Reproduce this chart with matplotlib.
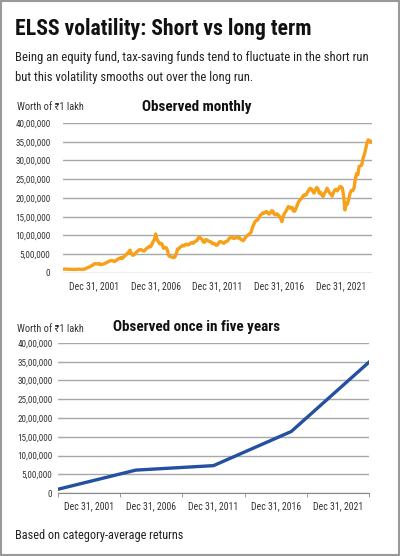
import os
import numpy as np
import matplotlib as mpl
import matplotlib.pyplot as plt
from matplotlib import font_manager
from matplotlib.font_manager import FontProperties

mpl.use('agg')

# worth of Rs 1 lakh, in lakh, monthly from Dec 2001 to Dec 2021
monthly = [
    1.00,
    1.02, 1.05, 1.03, 1.00, 1.02, 0.98, 0.96, 0.97, 0.95, 0.97, 1.00, 1.03,   # 2002
    1.02, 0.99, 0.97, 1.00, 1.08, 1.25, 1.35, 1.55, 1.70, 1.90, 2.05, 2.40,   # 2003
    2.50, 2.45, 2.40, 2.55, 2.20, 2.25, 2.35, 2.45, 2.60, 2.85, 2.95, 3.20,   # 2004
    3.25, 3.35, 3.20, 3.05, 3.30, 3.55, 3.75, 3.90, 4.10, 3.85, 4.25, 4.55,   # 2005
    4.90, 5.20, 5.60, 6.10, 5.30, 4.75, 4.80, 5.20, 5.55, 5.85, 6.15, 6.25,   # 2006
    6.20, 5.90, 5.85, 6.20, 6.60, 6.75, 7.10, 7.00, 7.60, 8.40, 8.90, 10.40,  # 2007
    9.00, 8.40, 7.80, 7.90, 7.70, 6.60, 6.70, 6.80, 6.20, 4.70, 4.40, 4.30,   # 2008
    4.20, 4.10, 4.30, 5.20, 6.40, 6.50, 6.90, 7.10, 7.40, 7.20, 7.60, 7.70,   # 2009
    7.50, 7.60, 8.00, 8.10, 7.90, 8.20, 8.50, 8.60, 9.30, 9.60, 9.20, 9.00,   # 2010
    8.30, 8.20, 8.90, 8.80, 8.50, 8.40, 8.30, 7.80, 7.90, 7.70, 7.40, 7.50,   # 2011
    8.10, 8.40, 8.30, 8.10, 7.90, 8.30, 8.40, 8.60, 9.20, 9.40, 9.60, 9.30,   # 2012
    9.20, 9.40, 9.60, 9.30, 9.50, 9.00, 8.80, 8.60, 9.10, 9.60, 9.90, 10.20,  # 2013
    10.50, 10.80, 12.00, 12.80, 13.60, 14.00, 14.10, 14.60, 15.30, 15.60, 16.00, 15.90,  # 2014
    16.20, 16.40, 16.10, 15.70, 16.00, 16.60, 16.50, 15.70, 15.50, 15.80, 15.50, 15.20,  # 2015
    14.60, 13.70, 15.00, 15.90, 16.40, 17.00, 17.70, 17.60, 17.20, 17.50, 16.50, 16.50,  # 2016
    17.30, 18.10, 19.00, 19.50, 19.80, 20.20, 20.80, 20.70, 21.00, 21.60, 22.20, 22.60,  # 2017
    22.40, 21.80, 21.30, 22.20, 22.80, 22.50, 21.30, 21.50, 20.80, 20.40, 21.20, 21.70,  # 2018
    22.60, 22.00, 21.40, 21.00, 20.50, 21.40, 22.10, 22.30, 21.90, 22.40, 23.00, 23.00,  # 2019
    22.60, 20.40, 16.80, 18.60, 18.40, 19.80, 21.30, 22.00, 22.00, 22.60, 25.00, 26.50,  # 2020
    26.20, 28.40, 28.60, 28.80, 30.50, 31.50, 32.90, 34.50, 35.50, 35.30, 34.80, 35.10,  # 2021
]
five_year = [1.00, 6.10, 7.30, 16.40, 34.90]
period_labels = ['Dec 31, 2001', 'Dec 31, 2006', 'Dec 31, 2011', 'Dec 31, 2016', 'Dec 31, 2021']
yticks = np.arange(0, 41, 5) * 100000

monthly = np.array(monthly) * 100000
five_year = np.array(five_year) * 100000


################################################################################
# fonts: the original uses a condensed grotesque, look for any narrow sans
def find_narrow(bold):
    prefer = ['liberationsansnarrow', 'robotocondensed', 'notosans', 'opensans', 'dejavusans']
    best = None
    for f in font_manager.fontManager.ttflist:
        fn = os.path.basename(f.fname).lower().replace('-', '').replace('_', '')
        if not ('narrow' in fn or 'condensed' in fn):
            continue
        if any(k in fn for k in ['mono', 'serif', 'italic', 'oblique', 'extra', 'semi', 'ultra']):
            continue
        isbold = 'bold' in fn
        if isbold != bold:
            continue
        if not bold and any(k in fn for k in ['light', 'thin', 'medium', 'black']):
            continue
        rank = next((i for i, p in enumerate(prefer) if fn.startswith(p)), 99)
        if best is None or rank < best[0]:
            best = (rank, f.fname)
    return best[1] if best else None


reg_file = find_narrow(False)
bold_file = find_narrow(True)
if reg_file and bold_file:
    REG = FontProperties(fname=reg_file)
    BOLD = FontProperties(fname=bold_file)
    REG_NAME = REG.get_name()
    k = 1.0
else:
    REG = FontProperties(family='Liberation Sans')
    BOLD = FontProperties(family='Liberation Sans', weight='bold')
    REG_NAME = 'Liberation Sans'
    k = 0.84

plt.rcParams['font.family'] = [REG_NAME, 'DejaVu Sans']


def fp(base, size):
    p = base.copy()
    p.set_size(size * k)
    return p


def indian(v):
    v = int(round(v))
    if v == 0:
        return '0'
    s = str(v)
    head, tail = s[:-3], s[-3:]
    parts = []
    while len(head) > 2:
        parts.insert(0, head[-2:])
        head = head[:-2]
    if head:
        parts.insert(0, head)
    return ','.join(parts + [tail])


ORANGE = '#F7A11A'
BLUE = '#2350A0'
GRID = '#a8a8a8'
TXT = '#222222'

fig = plt.figure(figsize=(4.0, 5.56), dpi=100)

# frame round the graphic
fig.patches.append(plt.Rectangle((0.002, 0.002), 0.996, 0.996, transform=fig.transFigure,
                                 fill=False, edgecolor='#9a9a9a', linewidth=1.5))

fig.text(0.0375, 1 - 29 / 556, 'ELSS volatility: Short vs long term',
         fontproperties=fp(BOLD, 15.7), color='#111111', va='center', ha='left')
fig.text(0.0375, 1 - 58 / 556,
         'Being an equity fund, tax-saving funds tend to fluctuate in the short run',
         fontproperties=fp(REG, 9.1), color=TXT, va='center', ha='left')
fig.text(0.0375, 1 - 78 / 556, 'but this volatility smooths out over the long run.',
         fontproperties=fp(REG, 9.1), color=TXT, va='center', ha='left')
fig.text(0.0375, 1 - 535 / 556, 'Based on category-average returns',
         fontproperties=fp(REG, 8.8), color=TXT, va='center', ha='left')


def setup(ax, title, ylab_pad, title_y, worth_y):
    ax.set_ylim(0, 4000000)
    ax.set_xlim(0, 4)
    ax.set_yticks(yticks)
    ax.set_yticklabels([indian(v) for v in yticks], fontproperties=fp(REG, 6.6))
    ax.tick_params(axis='y', length=0, pad=ylab_pad, labelcolor='#333333')
    ax.grid(axis='y', color=GRID, linewidth=1.0)
    ax.set_axisbelow(True)
    for s in ['top', 'right', 'left', 'bottom']:
        ax.spines[s].set_visible(False)
    centers = (np.arange(5) + 0.5) * 0.8
    ax.set_xticks(centers)
    ax.set_xticklabels(period_labels, fontproperties=fp(REG, 7.0))
    ax.tick_params(axis='x', length=0, pad=6, labelcolor='#333333')
    ax.set_facecolor('none')
    fig.text(0.492, title_y, title, fontproperties=fp(BOLD, 10.9),
             color='#111111', ha='center', va='center')
    fig.text(0.042, worth_y, 'Worth of \u20b91 lakh', fontsize=7.5 * k, color='#333333',
             ha='left', va='center')


# top: observed monthly
ax1 = fig.add_axes([0.1575, 0.509, 0.7725, 0.2698])
setup(ax1, 'Observed monthly', 9, 1 - 107 / 556, 1 - 107 / 556)
x_m = np.arange(len(monthly)) / 60.0
ax1.plot(x_m, monthly, color=ORANGE, linewidth=2.4, solid_joinstyle='round', zorder=3)

# bottom: observed once in five years
ax2 = fig.add_axes([0.145, 0.1133, 0.7775, 0.2698])
setup(ax2, 'Observed once in five years', 4, 1 - 327 / 556, 1 - 329 / 556)
ax2.spines['bottom'].set_visible(True)
ax2.spines['bottom'].set_color('#888888')
ax2.set_xticks(np.arange(6) * 0.8, minor=True)
ax2.tick_params(axis='x', which='minor', length=3, color='#888888', direction='out')
x_5 = np.arange(len(five_year))
ax2.plot(x_5, five_year, color=BLUE, linewidth=2.4, solid_joinstyle='round', zorder=3)

plt.savefig('out.png', dpi=100)
